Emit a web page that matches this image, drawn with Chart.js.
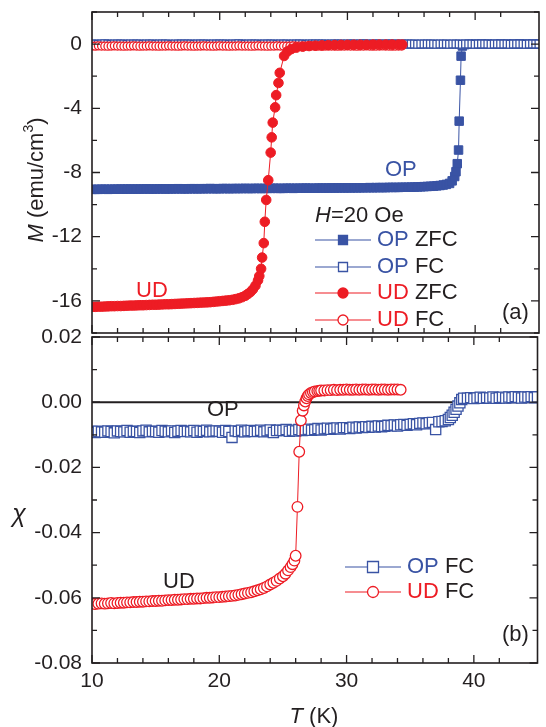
<!DOCTYPE html>
<html>
<head>
<meta charset="utf-8">
<script src="https://cdn.jsdelivr.net/npm/chart.js@4.4.1/dist/chart.umd.min.js"></script>
<style>
html, body { margin: 0; padding: 0; background: #fff; }
#wrap { position: relative; width: 546px; height: 727px; overflow: hidden; }
canvas { position: absolute; left: 0; }
</style>
</head>
<body>
<div id="wrap">
<canvas id="chartM" width="546" height="340" style="top:0"></canvas>
<canvas id="chartChi" width="546" height="407" style="top:320px"></canvas>
</div>
<script>
const BLUE = '#3953a4';
const RED = '#ed1c24';
const INK = '#231f20';
const FONT = '"Liberation Sans", Arial, sans-serif';

// temperature readings (K), 0.25 K apart
const tFine = [10,10.25,10.5,10.75,11,11.25,11.5,11.75,12,12.25,
  12.5,12.75,13,13.25,13.5,13.75,14,14.25,14.5,14.75,
  15,15.25,15.5,15.75,16,16.25,16.5,16.75,17,17.25,
  17.5,17.75,18,18.25,18.5,18.75,19,19.25,19.5,19.75,
  20,20.25,20.5,20.75,21,21.25,21.5,21.75,22,22.25,
  22.5,22.75,23,23.25,23.5,23.75,24,24.25,24.5,24.75,
  25,25.25,25.5,25.75,26,26.25,26.5,26.75,27,27.25,
  27.5,27.75,28,28.25,28.5,28.75,29,29.25,29.5,29.75,
  30,30.25,30.5,30.75,31,31.25,31.5,31.75,32,32.25,
  32.5,32.75,33,33.25,33.5,33.75,34,34.25,34.5,34.75,
  35,35.25,35.5,35.75,36,36.25,36.5,36.75,37,37.25,
  37.5,37.75,38,38.25,38.5,38.75,39,39.25,39.5,39.75,
  40,40.25,40.5,40.75,41,41.25,41.5,41.75,42,42.25,
  42.5,42.75,43,43.25,43.5,43.75,44,44.25,44.5,44.75,
  45];

// ---- panel (a): M (emu/cm3) vs T, H = 20 Oe ----
const opZfcT = tFine.slice(0, 113).concat([38.2,38.4,38.5,38.6,38.7,38.75,38.85,38.9,39,39.2,
  39.5,40,40.5,41,41.5,42,42.5,43,43.5,44,44.5,45]);
const opZfcM = [-9.05,-9.05,-9.05,-9.04,-9.04,-9.05,-9.04,-9.04,-9.04,-9.03,
  -9.04,-9.03,-9.03,-9.04,-9.03,-9.03,-9.03,-9.02,-9.03,-9.03,
  -9.03,-9.02,-9.02,-9.03,-9.02,-9.02,-9.02,-9.01,-9.02,-9.02,
  -9.02,-9.01,-9.01,-9.02,-9.01,-9.01,-9.01,-9.00,-9.01,-9.01,
  -9.01,-9.00,-9.00,-9.01,-9.00,-9.00,-9.00,-9.00,-8.99,-9.00,
  -9.00,-8.99,-8.99,-9.00,-8.99,-8.99,-8.99,-8.98,-8.99,-8.99,
  -8.99,-8.98,-8.98,-8.99,-8.98,-8.98,-8.98,-8.97,-8.98,-8.98,
  -8.98,-8.97,-8.97,-8.97,-8.97,-8.96,-8.97,-8.96,-8.96,-8.96,
  -8.96,-8.96,-8.95,-8.96,-8.95,-8.95,-8.95,-8.94,-8.95,-8.94,
  -8.94,-8.94,-8.94,-8.93,-8.93,-8.93,-8.93,-8.92,-8.92,-8.92,
  -8.91,-8.91,-8.90,-8.89,-8.88,-8.87,-8.86,-8.85,-8.83,-8.81,
  -8.78,-8.74,-8.68,
  -8.52,-8.25,-7.95,-7.45,-6.60,-4.80,-2.25,-0.75,-0.12,-0.03,
  -0.01,0,0,0,-0.01,0,0,0,0.01,0,0,0];

const opFcT = tFine;
const opFcM = [0.01,0,-0.01,0,0.02,0,-0.01,0,0.01,0,
  0,-0.01,0.01,0,0,0.01,-0.01,0,0,0.01,
  -0.01,0,0.01,0,0,-0.02,0,0.01,0,0,
  0.01,0,-0.01,0,0.01,0,0,-0.01,0.01,0,
  0,0.01,0,-0.01,0,0,0.02,0,-0.01,0,
  0.01,0,0,-0.01,0,0.01,0,0,-0.01,0,
  0,0.01,-0.01,0,0,0.01,0,-0.01,0,0.01,
  0,0,0.01,0,-0.01,0,0.01,0,0,-0.01,
  0.01,0,0,-0.01,0,0.02,0,-0.01,0,0,
  0,-0.01,0,0.01,0,0,-0.01,0,0.01,0,
  0.01,0,-0.01,0,0,0.01,0,0,-0.01,0.01,
  0,0,-0.01,0.01,0,0,-0.01,0.01,0,0,
  -0.01,0,0.01,0,0,-0.01,0,0.01,0,0,
  0.01,-0.01,0,0,0.01,0,-0.01,0,0.01,0,
  0];

const udZfcT = tFine.slice(0, 49).concat([22.2,22.4,22.6,22.8,23,23.1,
  23.24,23.32,23.45,23.53,23.64,23.8,23.99,24.07,24.15,24.34,24.42,24.6,24.7,
  25.04,25.3,25.6,
  26,26.5,27,27.5,28,28.5,29,29.5,30,30.5,31,31.5,32,32.5,33,33.5,34,34.3]);
const udZfcM = [-16.37,-16.37,-16.36,-16.36,-16.35,-16.34,-16.33,-16.33,-16.32,-16.32,
  -16.31,-16.30,-16.29,-16.29,-16.28,-16.27,-16.27,-16.26,-16.25,-16.24,
  -16.24,-16.23,-16.22,-16.21,-16.21,-16.20,-16.19,-16.18,-16.17,-16.16,
  -16.15,-16.14,-16.13,-16.12,-16.11,-16.10,-16.09,-16.08,-16.06,-16.04,
  -16.02,-16.00,-15.98,-15.96,-15.93,-15.89,-15.84,-15.77,-15.68,
  -15.57,-15.45,-15.28,-15.05,-14.72,-14.45,
  -14.0,-13.3,-12.4,-11.07,-9.71,-8.48,-6.76,-5.81,-4.89,-3.94,-3.18,-2.42,-1.79,
  -0.74,-0.46,-0.31,
  -0.22,-0.16,-0.12,-0.10,-0.08,-0.07,-0.06,-0.05,-0.05,-0.04,-0.04,-0.04,-0.03,-0.03,-0.03,-0.03,-0.03,-0.03];

const udFcT = tFine.slice(0, 98);
const udFcM = [-0.12,-0.13,-0.11,-0.12,-0.12,-0.13,-0.12,-0.11,-0.12,-0.12,
  -0.13,-0.12,-0.12,-0.11,-0.12,-0.13,-0.12,-0.12,-0.11,-0.12,
  -0.12,-0.13,-0.12,-0.12,-0.11,-0.12,-0.12,-0.13,-0.12,-0.11,
  -0.12,-0.12,-0.13,-0.12,-0.12,-0.11,-0.12,-0.12,-0.13,-0.12,
  -0.11,-0.12,-0.12,-0.13,-0.12,-0.12,-0.11,-0.12,-0.12,-0.12,
  -0.13,-0.12,-0.11,-0.12,-0.12,-0.13,-0.12,-0.12,-0.11,-0.12,
  -0.12,-0.13,-0.12,-0.11,-0.12,-0.12,-0.13,-0.12,-0.12,-0.11,
  -0.12,-0.12,-0.13,-0.12,-0.11,-0.12,-0.12,-0.13,-0.12,-0.12,
  -0.11,-0.12,-0.12,-0.13,-0.12,-0.12,-0.11,-0.12,-0.13,-0.12,
  -0.12,-0.11,-0.12,-0.12,-0.13,-0.12,-0.12,-0.12];

// ---- panel (b): chi vs T, field cooled ----
const opChiT = tFine.slice(0, 113).concat([38.15,38.3,38.45,38.6,38.75,38.9,39.05,39.2]).concat(tFine.slice(118));
const opChi = [-0.0090,-0.0093,-0.0089,-0.0091,-0.0092,-0.0088,-0.0090,-0.0094,-0.0088,-0.0090,
  -0.0091,-0.0087,-0.0092,-0.0089,-0.0090,-0.0093,-0.0088,-0.0086,-0.0091,-0.0089,
  -0.0090,-0.0092,-0.0087,-0.0089,-0.0091,-0.0088,-0.0093,-0.0089,-0.0087,-0.0090,
  -0.0089,-0.0091,-0.0087,-0.0092,-0.0088,-0.0090,-0.0086,-0.0091,-0.0089,-0.0088,
  -0.0089,-0.0092,-0.0087,-0.0090,-0.0108,-0.0088,-0.0090,-0.0086,-0.0091,-0.0088,
  -0.0087,-0.0090,-0.0089,-0.0086,-0.0091,-0.0088,-0.0085,-0.0093,-0.0087,-0.0086,
  -0.0087,-0.0084,-0.0089,-0.0086,-0.0088,-0.0084,-0.0087,-0.0085,-0.0083,-0.0086,
  -0.0084,-0.0081,-0.0085,-0.0082,-0.0080,-0.0083,-0.0081,-0.0079,-0.0082,-0.0078,
  -0.0078,-0.0081,-0.0077,-0.0079,-0.0076,-0.0078,-0.0075,-0.0077,-0.0074,-0.0076,
  -0.0073,-0.0075,-0.0074,-0.0071,-0.0072,-0.0070,-0.0073,-0.0069,-0.0068,-0.0071,
  -0.0068,-0.0066,-0.0069,-0.0065,-0.0064,-0.0066,-0.0063,-0.0062,-0.0084,-0.0060,
  -0.0059,-0.0057,-0.0053,
  -0.0047,-0.0040,-0.0031,-0.0022,-0.0012,-0.0002,0.0008,0.0012,
  0.0012,0.0014,0.0011,0.0013,0.0015,0.0012,0.0014,0.0013,0.0016,0.0012,
  0.0014,0.0015,0.0013,0.0016,0.0014,0.0017,0.0015,0.0013,0.0016,0.0015,
  0.0017,0.0014,0.0016];

const udChiT = tFine.slice(0, 61).concat([25.2,25.4,25.6,25.75,25.9,26,26.14,26.28,26.41,26.55,
  26.65,26.75,26.85,26.95,27.05,27.2,27.35,27.5,27.7,27.85,28]).concat(tFine.slice(73, 98));
const udChi = [-0.0618,-0.0619,-0.0618,-0.0617,-0.0618,-0.0617,-0.0616,-0.0617,-0.0616,-0.0615,
  -0.0615,-0.0614,-0.0614,-0.0613,-0.0613,-0.0612,-0.0612,-0.0611,-0.0611,-0.0610,
  -0.0610,-0.0609,-0.0609,-0.0608,-0.0607,-0.0607,-0.0606,-0.0606,-0.0605,-0.0604,
  -0.0604,-0.0603,-0.0603,-0.0602,-0.0602,-0.0601,-0.0600,-0.0600,-0.0599,-0.0598,
  -0.0598,-0.0597,-0.0596,-0.0595,-0.0594,-0.0593,-0.0591,-0.0589,-0.0587,-0.0585,
  -0.0583,-0.0580,-0.0577,-0.0574,-0.0570,-0.0565,-0.0559,-0.0554,-0.0548,-0.0541,
  -0.0534,
  -0.0526,-0.0516,-0.0506,-0.0497,-0.0486,-0.0471,-0.0321,-0.0152,-0.0056,-0.0026,
  -0.0010,0.0002,0.0012,0.0019,0.0024,0.0028,0.0031,0.0033,0.0034,0.0035,0.0036,
  0.0036,0.0037,0.0037,0.0038,0.0037,0.0038,0.0038,0.0039,0.0038,0.0038,
  0.0039,0.0038,0.0039,0.0039,0.0038,0.0039,0.0039,0.0038,0.0039,0.0039,
  0.0038,0.0039,0.0039,0.0039,0.0038];

const zeroT = [10, 45];
const zeroChi = [0, 0];

function pts(xs, ys) { return xs.map((x, i) => ({x: x, y: ys[i]})); }

function series(xs, ys, color, shape, filled, r, order) {
  return {
    data: pts(xs, ys),
    borderColor: color, borderWidth: 1,
    pointStyle: shape, pointRadius: r,
    pointBackgroundColor: filled ? color : '#fff',
    pointBorderColor: color, pointBorderWidth: filled ? 1 : 1.3,
    tension: 0, order: order
  };
}

function xAxis(showLabels) {
  return {
    type: 'linear', min: 10, max: 45,
    grid: {display: false, drawTicks: false}, border: {display: false},
    ticks: {display: showLabels, stepSize: 2, autoSkip: false, maxRotation: 0, padding: 6, color: INK,
      font: {family: FONT, size: 21}, callback: v => (v % 10 === 0 ? String(v) : '')},
    afterFit: s => { s.height = showLabels ? 64 : 0; s.paddingLeft = 0; s.paddingRight = 0; }
  };
}

function yAxis(min, max, step, fmt) {
  return {
    min: min, max: max,
    grid: {display: false, drawTicks: false}, border: {display: false},
    ticks: {stepSize: step, autoSkip: false, padding: 10, color: INK, font: {family: FONT, size: 21}, callback: fmt},
    afterFit: s => { s.width = 92; s.paddingTop = 0; s.paddingBottom = 0; }
  };
}

// frame round the plot with inward ticks on all four sides
const frame = {
  id: 'frame',
  afterDatasetsDraw(chart) {
    const ctx = chart.ctx, a = chart.chartArea;
    const xs = chart.scales.x, ys = chart.scales.y;
    ctx.save();
    ctx.strokeStyle = INK;
    ctx.lineWidth = 1.6;
    ctx.strokeRect(a.left, a.top, a.right - a.left, a.bottom - a.top);
    ctx.lineWidth = 1.3;
    ctx.beginPath();
    xs.ticks.forEach(t => {
      if (Math.abs((t.value - 10) % 2) > 1e-6 || t.value >= 45) return;
      const p = xs.getPixelForValue(t.value);
      const len = t.value % 10 === 0 ? 8 : 5;
      ctx.moveTo(p, a.bottom); ctx.lineTo(p, a.bottom - len);
      ctx.moveTo(p, a.top); ctx.lineTo(p, a.top + len);
    });
    ys.ticks.forEach(t => {
      const p = ys.getPixelForValue(t.value);
      const len = t.label !== '' ? 8 : 5;
      ctx.moveTo(a.left, p); ctx.lineTo(a.left + len, p);
      ctx.moveTo(a.right, p); ctx.lineTo(a.right - len, p);
    });
    ctx.stroke();
    ctx.restore();
  }
};

function runs(ctx, parts, x, y, align) {
  // parts: [text, font, color, dy]
  let w = 0;
  parts.forEach(p => { ctx.font = p[1]; w += ctx.measureText(p[0]).width; });
  let cx = align === 'center' ? x - w / 2 : x;
  ctx.textAlign = 'left';
  ctx.textBaseline = 'middle';
  parts.forEach(p => {
    ctx.font = p[1]; ctx.fillStyle = p[2];
    ctx.fillText(p[0], cx, y + (p[3] || 0));
    cx += ctx.measureText(p[0]).width;
  });
}

function mark(ctx, shape, filled, color, x, y, s) {
  ctx.beginPath();
  if (shape === 'rect') ctx.rect(x - s, y - s, 2 * s, 2 * s);
  else ctx.arc(x, y, s, 0, Math.PI * 2);
  ctx.fillStyle = filled ? color : '#fff';
  ctx.fill();
  ctx.lineWidth = 1.3; ctx.strokeStyle = color;
  ctx.stroke();
}

function legendRow(ctx, x0, y, color, shape, filled, s, name, kind) {
  ctx.strokeStyle = color; ctx.lineWidth = 1.2;
  ctx.beginPath(); ctx.moveTo(x0, y); ctx.lineTo(x0 + 56, y); ctx.stroke();
  mark(ctx, shape, filled, color, x0 + 28, y, s);
  runs(ctx, [[name + ' ', '22px ' + FONT, color], [kind, '22px ' + FONT, INK]], x0 + 62, y, 'left');
}

const f22 = '22px ' + FONT, i22 = 'italic 22px ' + FONT;

const notesA = {
  id: 'notesA',
  afterDraw(chart) {
    const ctx = chart.ctx;
    ctx.save();
    ctx.translate(37, 180);
    ctx.rotate(-Math.PI / 2);
    runs(ctx, [['M', i22, INK], [' (emu/cm', f22, INK], ['3', '14px ' + FONT, INK, -8], [')', f22, INK]], 0, 0, 'center');
    ctx.restore();
    ctx.save();
    runs(ctx, [['OP', f22, BLUE]], 385, 170, 'left');
    runs(ctx, [['UD', f22, RED]], 136, 291, 'left');
    runs(ctx, [['H', i22, INK], ['=20 Oe', f22, INK]], 315, 216, 'left');
    legendRow(ctx, 315, 240, BLUE, 'rect', true, 4.5, 'OP', 'ZFC');
    legendRow(ctx, 315, 267, BLUE, 'rect', false, 4.5, 'OP', 'FC');
    legendRow(ctx, 315, 293, RED, 'circle', true, 5, 'UD', 'ZFC');
    legendRow(ctx, 315, 320, RED, 'circle', false, 5, 'UD', 'FC');
    runs(ctx, [['(a)', f22, INK]], 502, 313, 'left');
    ctx.restore();
  }
};

const notesB = {
  id: 'notesB',
  afterDraw(chart) {
    const ctx = chart.ctx;
    ctx.save();
    runs(ctx, [['\u03c7', 'italic 25px ' + FONT, INK]], 19, 195, 'center');
    runs(ctx, [['T', i22, INK], [' (K)', f22, INK]], 314, 397, 'center');
    runs(ctx, [['OP', f22, INK]], 207, 90, 'left');
    runs(ctx, [['UD', f22, INK]], 163, 262, 'left');
    legendRow(ctx, 345, 247, BLUE, 'rect', false, 5.5, 'OP', 'FC');
    legendRow(ctx, 345, 272, RED, 'circle', false, 5.5, 'UD', 'FC');
    runs(ctx, [['(b)', f22, INK]], 502, 315, 'left');
    ctx.restore();
  }
};

const common = {
  responsive: false, animation: false, devicePixelRatio: 1,
  plugins: {legend: {display: false}, tooltip: {enabled: false}}
};

new Chart(document.getElementById('chartM').getContext('2d'), {
  type: 'line',
  data: {
    datasets: [
      series(udZfcT, udZfcM, RED, 'circle', true, 4.8, 0),
      series(udFcT, udFcM, RED, 'circle', false, 4, 1),
      series(opFcT, opFcM, BLUE, 'rect', false, 5.5, 2),
      series(opZfcT, opZfcM, BLUE, 'rect', true, 6, 3)
    ]
  },
  options: Object.assign({}, common, {
    layout: {padding: {top: 12, right: 2, bottom: 3, left: 0}},
    scales: {
      x: xAxis(false),
      y: yAxis(-18, 2, 2, v => (Math.round(v) % 4 === 0 ? String(Math.round(v)) : ''))
    }
  }),
  plugins: [frame, notesA]
});

new Chart(document.getElementById('chartChi').getContext('2d'), {
  type: 'line',
  data: {
    datasets: [
      series(udChiT, udChi, RED, 'circle', false, 5.3, 0),
      series(opChiT, opChi, BLUE, 'rect', false, 7.2, 1),
      {data: pts(zeroT, zeroChi), borderColor: INK, borderWidth: 2, pointRadius: 0, order: 2}
    ]
  },
  options: Object.assign({}, common, {
    layout: {padding: {top: 17, right: 2, bottom: 0, left: 0}},
    scales: {
      x: xAxis(true),
      y: yAxis(-0.08, 0.02, 0.01, v => {
        const c = Math.round(v * 100);
        return c % 2 === 0 ? (c / 100).toFixed(2) : '';
      })
    }
  }),
  plugins: [frame, notesB]
});
</script>
</body>
</html>
